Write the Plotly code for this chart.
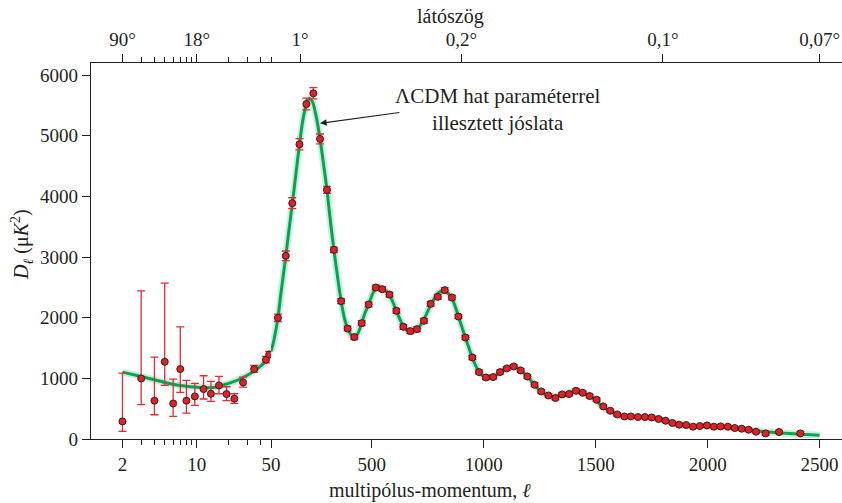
import plotly.graph_objects as go

# ---------------- data ----------------
# low multipoles (log part of the x axis)
ell_low = [2, 3, 4, 5, 6, 7, 8, 9.6, 11.6, 13.6, 16.2, 19.1, 22.6, 27.3, 34.7, 44.8, 48.1]
D_low = [290, 998, 631, 1273, 586, 1153, 631, 702, 823, 746, 883, 741, 664, 932, 1153, 1306, 1393]
err_low_plus = [797, 1444, 719, 1296, 402, 696, 334, 214, 220, 203, 148, 120, 82, 89, 60, 55, 50]
err_low_minus = [165, 433, 231, 390, 214, 385, 203, 149, 164, 126, 137, 110, 78, 76, 55, 50, 45]

# high multipoles (linear part of the x axis)
ell_high = [81, 116, 145, 177, 208, 239, 269, 300, 331, 363, 392, 422, 455, 486, 518, 547,
            579, 610, 641, 672, 702, 733, 763, 795, 826, 858, 887, 918, 949, 979, 1010, 1042,
            1073, 1103, 1134, 1165, 1195, 1227, 1257, 1289, 1320, 1350, 1381, 1412, 1442, 1473,
            1504, 1534, 1565, 1596, 1628, 1657, 1689, 1720, 1750, 1781, 1812, 1843, 1873, 1904,
            1935, 1965, 1997, 2028, 2058, 2090, 2121, 2152, 2183, 2216, 2259, 2319, 2414]
D_high = [1997, 3019, 3887, 4858, 5522, 5698, 4946, 4106, 3118, 2273, 1822, 1680, 1910, 2217,
          2497, 2470, 2381, 2113, 1849, 1779, 1811, 1948, 2228, 2343, 2454, 2332, 2019, 1673,
          1344, 1103, 1014, 1021, 1103, 1163, 1196, 1130, 1031, 894, 784, 718, 675, 735, 741,
          795, 762, 708, 647, 537, 466, 405, 372, 372, 362, 362, 356, 330, 301, 263, 236, 231,
          203, 214, 224, 203, 208, 203, 181, 170, 153, 120, 92, 115, 92]
err_high = [60, 80, 90, 93, 96, 93, 82, 58, 44, 40, 40, 40, 40, 40, 40, 40,
            40, 40, 40, 40, 40, 40, 40, 40, 40, 40, 35, 35, 35, 35, 35, 35,
            30, 30, 30, 30, 30, 30, 30, 28, 28, 28, 28, 28, 28, 28,
            25, 25, 25, 22, 22, 22, 22, 22, 22, 20, 20, 20, 20, 20,
            20, 20, 20, 20, 20, 20, 20, 20, 22, 24, 26, 28, 32]

# best-fit LCDM model curve
ell_model_low = [2, 3, 4, 5, 7, 9.6, 11.6, 13.6, 16.2, 19, 22.6, 27, 35, 45, 50]
D_model_low = [1103, 1031, 977, 932, 883, 856, 845, 845, 866, 906, 949, 1010, 1125, 1290, 1443]

ell_model_high = [50, 60, 70, 81, 95, 116, 130, 146, 160, 177, 192, 208, 222, 235, 250, 269,
                  285, 300, 315, 331, 347, 363, 378, 392, 407, 422, 438, 455, 470, 486, 502,
                  518, 535, 547, 563, 579, 595, 610, 626, 641, 657, 672, 688, 702, 718, 733,
                  748, 763, 780, 795, 812, 826, 842, 858, 873, 887, 903, 918, 934, 949, 964,
                  979, 995, 1010, 1026, 1042, 1057, 1073, 1088, 1103, 1119, 1134, 1150, 1165,
                  1180, 1195, 1211, 1227, 1242, 1257, 1273, 1289, 1305, 1320, 1335, 1350, 1365,
                  1381, 1396, 1412, 1427, 1442, 1457, 1473, 1488, 1504, 1519, 1534, 1550, 1565,
                  1580, 1596, 1612, 1628, 1643, 1657, 1673, 1689, 1705, 1720, 1735, 1750, 1766,
                  1781, 1797, 1812, 1828, 1843, 1858, 1873, 1889, 1904, 1920, 1935, 1950, 1965,
                  1981, 1997, 2028, 2058, 2090, 2121, 2152, 2183, 2216, 2259, 2319, 2414, 2500]
D_model_high = [1443, 1580, 1760, 1997, 2420, 3010, 3440, 3900, 4330, 4850, 5250, 5520, 5610,
                5560, 5350, 4946, 4520, 4106, 3600, 3118, 2680, 2273, 1990, 1822, 1720, 1680,
                1740, 1910, 2080, 2217, 2380, 2480, 2510, 2480, 2440, 2370, 2250, 2110, 1970,
                1860, 1790, 1770, 1780, 1815, 1880, 1970, 2090, 2210, 2320, 2400, 2440, 2440,
                2400, 2320, 2180, 2020, 1840, 1673, 1500, 1344, 1210, 1110, 1045, 1015, 1005,
                1020, 1055, 1100, 1140, 1170, 1190, 1195, 1175, 1135, 1085, 1030, 960, 890, 830,
                780, 740, 712, 700, 700, 715, 735, 752, 768, 780, 785, 778, 760, 738, 705, 670,
                625, 570, 525, 485, 455, 425, 400, 382, 372, 368, 366, 363, 361, 360, 358, 354,
                348, 338, 326, 312, 297, 280, 264, 250, 238, 229, 222, 216, 212, 210, 210, 209,
                208, 203, 198, 190, 178, 164, 150, 135, 118, 100, 80, 60]

# axis ticks
bottom_log_ticks = [2, 10, 50]
bottom_log_labels = ["2", "10", "50"]
log_minor_ticks = [3, 4, 5, 6, 7, 8, 9, 20, 30, 40]
bottom_lin_ticks = [500, 1000, 1500, 2000, 2500]
bottom_lin_labels = ["500", "1000", "1500", "2000", "2500"]
top_log_ticks = [2, 10]
top_log_labels = ["90°", "18°"]
top_log_minor = [3, 4, 5, 6, 7, 8, 9, 20, 30, 40, 50]
top_lin_ticks = [180, 900, 1800, 2500]
top_lin_labels = ["1°", "0,2°", "0,1°", "0,07°"]
y_ticks = [0, 1000, 2000, 3000, 4000, 5000, 6000]

# ---------------- styling ----------------
FONT = "Liberation Serif"
TXT = "#231f20"
AX = "#231f20"
GREEN = "#00a651"
BAND = "rgba(0,166,81,0.2)"
RED = "#e3202a"
ERR = "rgb(232,40,52)"
EDGE = "#3a1c1c"

SPLIT = 180 / 751  # fraction of width used by the log part
LOG_RANGE = [0.005, 1.699]
LIN_RANGE = [50, 2600]

fig = go.Figure()

# model band + line
for xa, ex, ey in (("x", ell_model_low, D_model_low), ("x2", ell_model_high, D_model_high)):
    fig.add_trace(go.Scatter(x=ex, y=ey, xaxis=xa, yaxis="y", mode="lines",
                             line=dict(color=BAND, width=7, shape="spline", smoothing=0.8),
                             showlegend=False, hoverinfo="skip"))
    fig.add_trace(go.Scatter(x=ex, y=ey, xaxis=xa, yaxis="y", mode="lines",
                             line=dict(color=GREEN, width=3, shape="spline", smoothing=0.8),
                             showlegend=False, hoverinfo="skip"))

marker = dict(color=RED, size=7, line=dict(color=EDGE, width=1))
fig.add_trace(go.Scatter(x=ell_low, y=D_low, xaxis="x", yaxis="y", mode="markers",
                         marker=marker,
                         error_y=dict(type="data", symmetric=False, array=err_low_plus,
                                      arrayminus=err_low_minus, color=ERR, thickness=1.3, width=4),
                         showlegend=False))
fig.add_trace(go.Scatter(x=ell_high, y=D_high, xaxis="x2", yaxis="y", mode="markers",
                         marker=marker,
                         error_y=dict(type="data", array=err_high, color=ERR, thickness=1.3, width=4),
                         showlegend=False))

# dummy traces so the top axes exist
fig.add_trace(go.Scatter(x=[None], y=[None], xaxis="x3", yaxis="y", showlegend=False, hoverinfo="skip"))
fig.add_trace(go.Scatter(x=[None], y=[None], xaxis="x4", yaxis="y", showlegend=False, hoverinfo="skip"))

common = dict(showline=True, linecolor=AX, linewidth=1.3, ticks="outside", ticklen=8,
              tickwidth=1.2, tickcolor=AX, showgrid=False, zeroline=False, automargin=False,
              tickfont=dict(family=FONT, size=19, color=TXT))

fig.update_layout(
    width=842, height=503,
    margin=dict(l=91, r=0, t=63, b=64, autoexpand=False),
    paper_bgcolor="white", plot_bgcolor="white",
    font=dict(family=FONT, color=TXT),
    xaxis=dict(domain=[0, SPLIT], type="log", range=LOG_RANGE, anchor="y",
               tickmode="array", tickvals=bottom_log_ticks, ticktext=bottom_log_labels,
               minor=dict(tickmode="array", tickvals=log_minor_ticks, ticks="outside",
                          ticklen=5, tickwidth=1.2, tickcolor=AX, showgrid=False),
               **common),
    xaxis2=dict(domain=[SPLIT, 1], range=LIN_RANGE, anchor="y",
                tickmode="array", tickvals=bottom_lin_ticks, ticktext=bottom_lin_labels,
                **common),
    xaxis3=dict(overlaying="x", side="top", type="log", range=LOG_RANGE, anchor="y",
                tickmode="array", tickvals=top_log_ticks, ticktext=top_log_labels,
                minor=dict(tickmode="array", tickvals=top_log_minor, ticks="outside",
                           ticklen=5, tickwidth=1.2, tickcolor=AX, showgrid=False),
                **common),
    xaxis4=dict(overlaying="x2", side="top", range=LIN_RANGE, anchor="y",
                tickmode="array", tickvals=top_lin_ticks, ticktext=top_lin_labels,
                **common),
    yaxis=dict(domain=[0, 1], range=[0, 6198], anchor="x",
               tickmode="array", tickvals=y_ticks, **common),
)

def px_x(p):
    return (p - 91) / 751

def px_y(p):
    return (439 - p) / 376

fig.add_annotation(x=px_x(450), y=px_y(16), xref="paper", yref="paper", showarrow=False,
                   text="látószög", font=dict(family=FONT, size=20, color=TXT),
                   xanchor="center", yanchor="middle")
fig.add_annotation(x=px_x(430), y=px_y(490), xref="paper", yref="paper", showarrow=False,
                   text="multipólus-momentum, <i>ℓ</i>", font=dict(family=FONT, size=20, color=TXT),
                   xanchor="center", yanchor="middle")
fig.add_annotation(x=px_x(22), y=px_y(245), xref="paper", yref="paper", showarrow=False,
                   text="<i>D</i><sub><i>ℓ</i></sub> (μ<i>K</i><sup>2</sup>)", textangle=-90,
                   font=dict(family=FONT, size=20, color=TXT),
                   xanchor="center", yanchor="middle")
fig.add_annotation(x=px_x(497), y=px_y(109), xref="paper", yref="paper", showarrow=False,
                   text="ΛCDM hat paraméterrel<br>illesztett jóslata",
                   font=dict(family=FONT, size=21, color=TXT),
                   xanchor="center", yanchor="middle", align="center")
# arrow from the text to the model curve
fig.add_annotation(x=269, y=5204, xref="x2", yref="y", ax=630, ay=5385, axref="x2", ayref="y",
                   text="", showarrow=True, arrowhead=2, arrowsize=1.1, arrowwidth=1.2,
                   arrowcolor=AX, standoff=0, startstandoff=0)

fig.write_html("out.html")
